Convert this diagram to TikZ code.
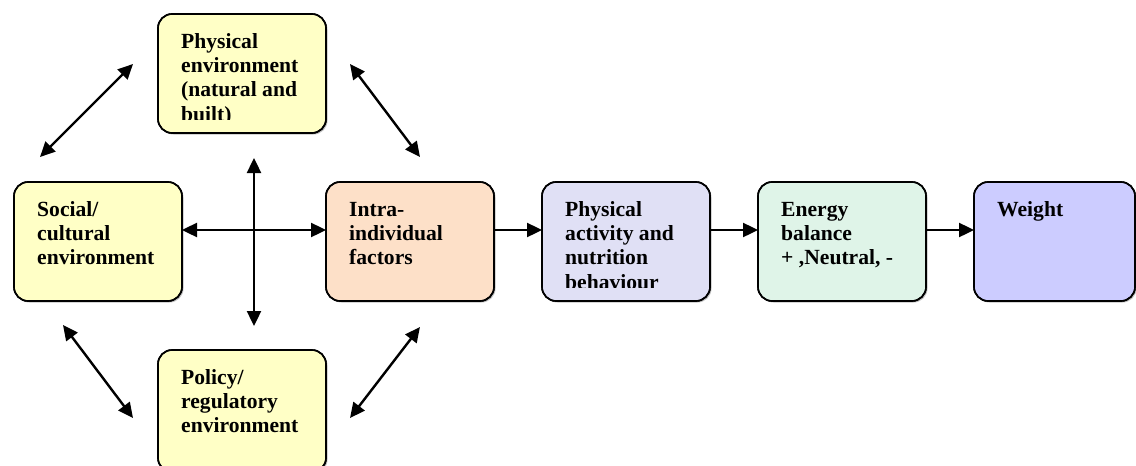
\documentclass[tikz,border=0pt]{standalone}
\usepackage{fontspec}
\setmainfont{Liberation Serif}
\usetikzlibrary{arrows.meta}
\definecolor{envyellow}{HTML}{FFFFC6}
\definecolor{intrapeach}{HTML}{FDE0C8}
\definecolor{palav}{HTML}{E0E0F5}
\definecolor{energygreen}{HTML}{DFF4E8}
\definecolor{weightblue}{HTML}{CCCCFF}
\tikzset{
  boxstyle/.style={draw=black, line width=1.6pt, rounded corners=14pt, inner sep=0pt},
  shadowstyle/.style={fill=black!25, rounded corners=14pt, draw=none},
  boxtext/.style={anchor=north west, inner sep=0pt, align=left, font=\fontsize{21.6}{24.2}\selectfont\bfseries},
  conn/.style={line width=2.4pt, -{Triangle[length=15pt,width=14pt]}},
  biconn/.style={line width=2.4pt, {Triangle[length=15pt,width=14pt]}-{Triangle[length=15pt,width=14pt]}}
}
\newcommand{\mybox}[7]{%
  % #1 name, #2 x1, #3 y1, #4 x2, #5 y2, #6 color, #7 text
  \fill[shadowstyle] (#2+1.5,#3+1.5) rectangle (#4+1.5,#5+1.5);
  \path[boxstyle, fill=#6] (#2,#3) rectangle (#4,#5);
  \coordinate (#1-nw) at (#2,#3);
  \coordinate (#1-se) at (#4,#5);
  \begin{scope}
    \clip (#2,#3) rectangle (#4,#5-14);
    \node[boxtext] (#1) at (#2+23,#3+17.3) {\strut #7};
  \end{scope}
  \path[draw=black, line width=1.6pt, rounded corners=14pt] (#2,#3) rectangle (#4,#5);
}
\begin{document}
\begin{tikzpicture}[x=1pt,y=-1pt]
\useasboundingbox (0,0) rectangle (1136,466);
\mybox{phys}{158}{14}{326}{133}{envyellow}{Physical\\environment\\(natural and\\built)}
\mybox{soc}{14}{182}{182}{301}{envyellow}{Social/\\cultural\\environment}
\mybox{intra}{326}{182}{494}{301}{intrapeach}{Intra-\\individual\\factors}
\mybox{pa}{542}{182}{710}{301}{palav}{Physical\\activity and\\nutrition\\behaviour}
\mybox{en}{758}{182}{926}{301}{energygreen}{Energy\\balance\\+ ,Neutral, -}
\mybox{wt}{974}{182}{1135}{301}{weightblue}{Weight}
\mybox{pol}{158}{350}{326}{472}{envyellow}{Policy/\\regulatory\\environment}

\coordinate (socE) at (182,230);
\coordinate (intraW) at (326,230);
\coordinate (intraE) at (494,230);
\coordinate (paW) at (542,230);
\coordinate (paE) at (710,230);
\coordinate (enW) at (758,230);
\coordinate (enE) at (926,230);
\coordinate (wtW) at (974,230);
\coordinate (vtop) at (254,158);
\coordinate (vbot) at (254,326);
\coordinate (d1a) at (40,157);
\coordinate (d1b) at (133,64);
\coordinate (d2a) at (350,64);
\coordinate (d2b) at (420,157);
\coordinate (d3a) at (63,325);
\coordinate (d3b) at (133,418);
\coordinate (d4a) at (350,418);
\coordinate (d4b) at (420,327);

\draw[biconn] (socE) -- (intraW);
\draw[biconn] (vtop) -- (vbot);
\draw[biconn] (d1a) -- (d1b);
\draw[biconn] (d2a) -- (d2b);
\draw[biconn] (d3a) -- (d3b);
\draw[biconn] (d4a) -- (d4b);
\draw[conn] (intraE) -- (paW);
\draw[conn] (paE) -- (enW);
\draw[conn] (enE) -- (wtW);
\end{tikzpicture}
\end{document}
